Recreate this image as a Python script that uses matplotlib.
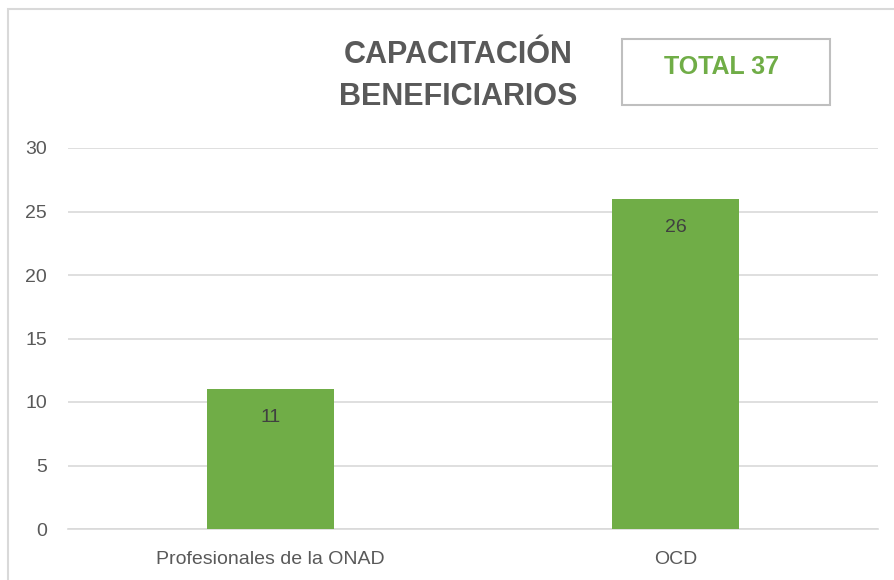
import matplotlib
matplotlib.use("Agg")
import matplotlib.pyplot as plt
from matplotlib.patches import Rectangle
from matplotlib import font_manager

categories = ["Profesionales de la ONAD", "OCD"]
values = [11, 26]
yticks = [0, 5, 10, 15, 20, 25, 30]
title = "CAPACITACIÓN\nBENEFICIARIOS"
total_label = "TOTAL 37"

names = {f.name for f in font_manager.fontManager.ttflist}
fam = ["Liberation Sans Narrow", "Liberation Sans", "DejaVu Sans"]
fam = [f for f in fam if f in names] or ["DejaVu Sans"]
plt.rcParams["font.family"] = fam

W, H = 894, 580
fig = plt.figure(figsize=(W / 100, H / 100), dpi=100)

ax = fig.add_axes([68 / W, 1 - 529 / H, (878 - 68) / W, (529 - 148) / H])
green = "#70AD47"
x = list(range(len(categories)))
bars = ax.bar(x, values, width=0.313, color=green, zorder=3)
ax.set_xlim(-0.5, len(categories) - 0.5)
ax.set_ylim(0, 30)
ax.set_yticks(yticks)
ax.set_yticklabels([str(t) for t in yticks], fontsize=14, color="#595959")
ax.set_xticks(x)
ax.set_xticklabels(categories, fontsize=14, color="#595959")
ax.tick_params(length=0)
ax.tick_params(axis="y", pad=15)
ax.tick_params(axis="x", pad=16)
ax.grid(axis="y", color="#D9D9D9", linewidth=1.2, zorder=0)
for s in ["top", "right", "left"]:
    ax.spines[s].set_visible(False)
ax.spines["bottom"].set_color("#D9D9D9")
ax.spines["bottom"].set_linewidth(1.2)

for b, v in zip(bars, values):
    ax.annotate(str(v), (b.get_x() + b.get_width() / 2, v), xytext=(0, -14.5),
                textcoords="offset points", ha="center", va="top",
                fontsize=14, color="#404040", zorder=4)

# outer border (left and top only visible)
fig.add_artist(Rectangle((7.5 / W, -0.1), 2, 1 - 9.5 / H + 0.1, transform=fig.transFigure,
                         fill=False, edgecolor="#D9D9D9", linewidth=1.5))

fig.text(458 / W, 1 - 76 / H, title, ha="center", va="center", fontsize=22,
         fontweight="bold", color="#595959", linespacing=1.55)

fig.add_artist(Rectangle((622 / W, 1 - 105 / H), (830 - 622) / W, (105 - 39) / H,
                         transform=fig.transFigure, fill=False, edgecolor="#BFBFBF", linewidth=1.5))
fig.text(722 / W, 1 - 67 / H, total_label, ha="center", va="center", fontsize=18,
         fontweight="bold", color=green)

fig.savefig("out.png", dpi=100)
